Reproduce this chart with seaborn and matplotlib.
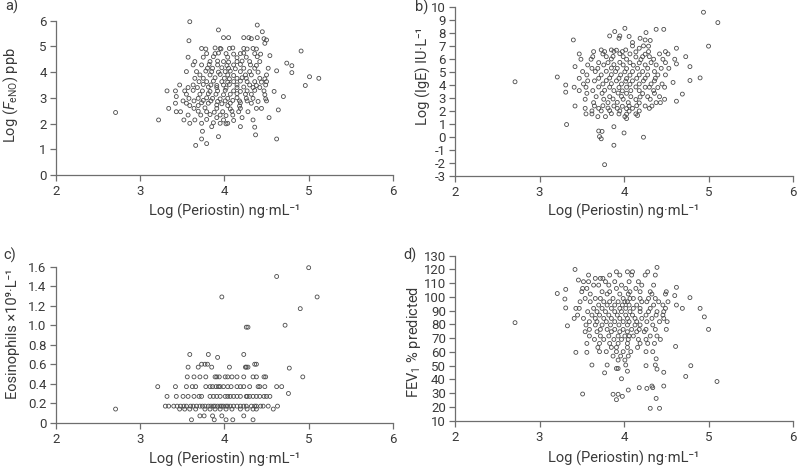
import matplotlib
matplotlib.use("Agg")
import matplotlib.pyplot as plt
import pandas as pd
import seaborn as sns
from matplotlib.ticker import FuncFormatter, MultipleLocator

# values (log periostin, outcome)
feno_points = [
    (2.71, 2.43),
    (3.59, 5.96), (4.39, 5.83), (3.93, 5.64), (4.45, 5.57),
    (3.99, 5.34), (4.05, 5.34), (4.23, 5.34), (4.29, 5.34), (4.32, 5.30), (4.39, 5.34), (4.47, 5.30), (4.50, 5.25),
    (3.58, 5.22), (4.48, 5.12),
    (3.73, 4.92), (3.78, 4.90), (3.89, 4.94), (3.95, 4.92), (3.96, 4.90), (4.06, 4.92), (4.10, 4.94), (4.23, 4.92),
    (4.27, 4.90), (4.34, 4.92), (4.38, 4.90), (4.91, 4.82),
    (3.79, 4.72), (3.89, 4.72), (3.93, 4.74), (4.02, 4.72), (4.11, 4.70), (4.19, 4.72), (4.23, 4.74), (4.36, 4.72), (4.43, 4.70),
    (3.57, 4.58), (3.75, 4.58), (3.87, 4.60), (4.04, 4.58), (4.15, 4.56), (4.26, 4.58), (4.39, 4.60), (4.54, 4.64),
    (3.65, 4.41), (3.83, 4.41), (3.92, 4.43), (3.99, 4.41), (4.05, 4.39), (4.15, 4.41), (4.21, 4.43), (4.30, 4.41),
    (4.42, 4.41), (4.74, 4.35),
    (3.63, 4.28), (3.73, 4.28), (3.82, 4.30), (3.92, 4.28), (4.03, 4.26), (4.11, 4.28), (4.19, 4.30), (4.31, 4.28),
    (4.38, 4.26), (4.80, 4.25),
    (3.80, 4.15), (3.86, 4.15), (3.97, 4.17), (4.05, 4.15), (4.13, 4.13), (4.23, 4.15), (4.36, 4.15), (4.52, 4.15),
    (3.55, 4.02), (3.67, 4.02), (3.78, 4.04), (3.85, 4.02), (3.93, 4.00), (4.01, 4.02), (4.07, 4.04), (4.19, 4.02),
    (4.30, 4.02), (4.40, 4.00), (4.62, 4.05), (4.80, 3.98),
    (3.71, 3.89), (3.83, 3.89), (3.95, 3.91), (4.04, 3.89), (4.11, 3.87), (4.25, 3.89), (4.32, 3.89), (4.50, 3.89),
    (5.01, 3.82),
    (3.65, 3.76), (3.75, 3.76), (3.89, 3.78), (4.00, 3.76), (4.06, 3.74), (4.15, 3.76), (4.21, 3.78), (4.26, 3.76),
    (4.42, 3.76), (4.48, 3.74), (5.12, 3.76),
    (3.70, 3.63), (3.79, 3.63), (3.87, 3.65), (3.97, 3.63), (4.04, 3.61), (4.11, 3.63), (4.19, 3.65), (4.27, 3.63),
    (4.36, 3.63), (4.44, 3.61), (4.50, 3.63),
    (3.47, 3.50), (3.63, 3.50), (3.75, 3.52), (3.84, 3.50), (3.91, 3.48), (3.99, 3.50), (4.06, 3.52), (4.15, 3.50),
    (4.30, 3.50), (4.38, 3.48), (4.49, 3.50), (4.96, 3.48),
    (3.57, 3.40), (3.68, 3.40), (3.81, 3.42), (3.91, 3.40), (4.02, 3.38), (4.15, 3.40), (4.23, 3.42), (4.34, 3.40), (4.42, 3.40),
    (3.32, 3.27), (3.42, 3.27), (3.53, 3.27), (3.63, 3.29), (3.74, 3.27), (3.83, 3.25), (3.92, 3.27), (4.01, 3.29),
    (4.11, 3.27), (4.19, 3.25), (4.27, 3.27), (4.36, 3.29), (4.47, 3.27), (4.59, 3.25),
    (3.55, 3.14), (3.71, 3.14), (3.81, 3.16), (3.90, 3.14), (3.99, 3.12), (4.07, 3.14), (4.15, 3.16), (4.25, 3.14),
    (4.32, 3.14), (4.48, 3.12), (3.43, 3.05), (4.70, 3.05),
    (3.58, 2.98), (3.69, 2.98), (3.79, 3.00), (3.86, 2.98), (3.95, 2.96), (4.04, 2.98), (4.15, 3.00), (4.26, 2.98),
    (4.34, 2.98), (4.49, 2.96),
    (3.51, 2.88), (3.64, 2.88), (3.75, 2.90), (3.84, 2.88), (3.92, 2.86), (4.01, 2.88), (4.10, 2.90), (4.18, 2.88),
    (4.27, 2.88), (4.40, 2.86), (4.50, 2.88),
    (3.42, 2.79), (3.55, 2.79), (3.73, 2.81), (3.81, 2.79), (3.97, 2.77), (4.07, 2.79), (4.19, 2.81), (4.32, 2.79),
    (3.59, 2.70), (3.69, 2.70), (3.91, 2.72), (4.04, 2.70), (4.18, 2.68),
    (3.34, 2.59), (3.64, 2.59), (3.77, 2.61), (3.91, 2.59), (4.07, 2.57), (4.19, 2.59), (4.38, 2.59), (4.44, 2.59),
    (4.64, 2.53),
    (3.43, 2.46), (3.48, 2.46), (3.69, 2.48), (3.79, 2.46), (3.88, 2.44), (3.98, 2.46), (4.09, 2.48), (4.17, 2.46), (4.28, 2.46),
    (3.57, 2.33), (3.72, 2.33), (3.83, 2.35), (3.95, 2.33), (4.02, 2.31), (4.10, 2.33),
    (3.91, 2.23), (4.21, 2.23), (4.53, 2.23),
    (3.22, 2.14), (3.52, 2.14), (3.65, 2.14), (3.79, 2.16), (3.99, 2.14), (4.11, 2.12), (4.34, 2.14),
    (3.59, 2.01), (3.73, 2.01), (3.87, 2.03), (3.95, 2.01), (4.02, 1.99), (4.04, 2.01),
    (3.85, 1.88), (4.19, 1.88), (4.36, 1.86),
    (3.74, 1.70), (4.37, 1.56), (3.93, 1.49), (3.73, 1.40), (4.62, 1.40), (3.79, 1.22), (3.66, 1.15),
]

ige_points = [
    (2.71, 4.25),
    (4.94, 9.62), (5.11, 8.82), (4.01, 8.38), (4.38, 8.30), (4.47, 8.30), (3.89, 8.13), (4.26, 8.05),
    (3.83, 7.79), (3.95, 7.79), (4.06, 7.75), (3.94, 7.61), (4.19, 7.61),
    (3.40, 7.48), (4.25, 7.48), (4.31, 7.44), (4.10, 7.28),
    (4.10, 7.02), (4.23, 7.02), (4.29, 7.00), (5.00, 7.00), (4.62, 6.84), (4.18, 6.84),
    (3.73, 6.71), (3.85, 6.71), (3.91, 6.69), (4.02, 6.71),
    (3.64, 6.58), (3.77, 6.58), (3.88, 6.60), (3.98, 6.58), (4.14, 6.56), (4.29, 6.58), (4.49, 6.58),
    (3.47, 6.40), (3.75, 6.40), (3.95, 6.42), (4.07, 6.40), (4.25, 6.38), (4.42, 6.40), (4.52, 6.40),
    (3.63, 6.19), (3.79, 6.19), (3.87, 6.21), (3.99, 6.19), (4.14, 6.17), (4.22, 6.19), (4.30, 6.19), (4.73, 6.19),
    (3.49, 5.99), (3.61, 5.99), (3.85, 6.01), (4.03, 5.99), (4.20, 5.97), (4.35, 5.99), (4.46, 5.99), (4.60, 5.99),
    (3.70, 5.73), (3.81, 5.73), (3.95, 5.75), (4.07, 5.73), (4.18, 5.71), (4.32, 5.73), (4.49, 5.73), (4.62, 5.63),
    (3.57, 5.55), (3.76, 5.55), (3.88, 5.57), (3.99, 5.55), (4.11, 5.53), (4.25, 5.55), (4.38, 5.55),
    (3.42, 5.42), (4.78, 5.42),
    (3.62, 5.29), (3.69, 5.29), (3.85, 5.31), (3.92, 5.29), (4.03, 5.27), (4.16, 5.29), (4.28, 5.29), (4.44, 5.29), (4.53, 5.29),
    (3.51, 5.04), (3.66, 5.04), (3.79, 5.06), (3.90, 5.04), (4.01, 5.02), (4.10, 5.04), (4.22, 5.04), (4.36, 5.04),
    (3.56, 4.78), (3.73, 4.78), (3.85, 4.80), (3.96, 4.78), (4.07, 4.76), (4.18, 4.78), (4.28, 4.78), (4.40, 4.78), (4.49, 4.78),
    (3.21, 4.62),
    (3.47, 4.52), (3.70, 4.52), (3.83, 4.54), (3.94, 4.52), (4.03, 4.50), (4.15, 4.52), (4.25, 4.52), (4.37, 4.52),
    (4.78, 4.35), (4.90, 4.55),
    (3.57, 4.32), (3.65, 4.32), (3.79, 4.34), (3.91, 4.32), (4.02, 4.30), (4.10, 4.32), (4.23, 4.32), (4.36, 4.32), (4.58, 4.20),
    (3.31, 4.00), (3.52, 4.08), (3.75, 4.08), (3.85, 4.10), (3.97, 4.08), (4.07, 4.06), (4.18, 4.08), (4.32, 4.08), (4.45, 4.08),
    (3.41, 3.83), (3.55, 3.83), (3.70, 3.85), (3.83, 3.83), (3.94, 3.81), (4.03, 3.83), (4.14, 3.85), (4.25, 3.83),
    (4.30, 3.83), (4.40, 3.81), (4.48, 3.83),
    (3.31, 3.45), (3.47, 3.57), (3.63, 3.57), (3.77, 3.59), (3.88, 3.57), (3.98, 3.55), (4.08, 3.57), (4.18, 3.57), (4.35, 3.57),
    (3.56, 3.36), (3.74, 3.36), (3.93, 3.38), (4.03, 3.36), (4.22, 3.34), (4.36, 3.36), (4.69, 3.30),
    (3.67, 3.10), (3.83, 3.10), (3.97, 3.12), (4.08, 3.10), (4.19, 3.08), (4.28, 3.10), (4.42, 3.10),
    (3.54, 2.90), (3.76, 2.90), (3.87, 2.92), (3.99, 2.90), (4.14, 2.88), (4.31, 2.90), (4.48, 2.90), (4.62, 2.75),
    (3.64, 2.64), (3.81, 2.64), (3.92, 2.66), (4.05, 2.64), (4.18, 2.62), (4.38, 2.64), (4.43, 2.64),
    (3.42, 2.38), (3.65, 2.38), (3.75, 2.40), (3.88, 2.38), (3.98, 2.36), (4.06, 2.38), (4.15, 2.40), (4.25, 2.38), (4.33, 2.38),
    (3.54, 2.20), (3.70, 2.20), (3.81, 2.22), (3.92, 2.20), (4.03, 2.18), (4.10, 2.20), (4.30, 2.20),
    (3.62, 2.00), (3.73, 2.00), (3.83, 2.02), (3.95, 2.00), (4.06, 1.98), (4.18, 2.00),
    (3.55, 1.77), (3.62, 1.77), (3.85, 1.79), (3.94, 1.77), (4.03, 1.75), (4.14, 1.77), (4.16, 1.65),
    (3.69, 1.56), (3.78, 1.56), (4.01, 1.56), (4.03, 1.41),
    (3.32, 0.95), (3.88, 0.78), (3.70, 0.45), (3.74, 0.42), (4.00, 0.30), (3.71, 0.02), (3.73, -0.15),
    (4.23, -0.03), (3.88, -0.65), (3.77, -2.15),
]

eos_points = [
    (2.71, 0.14),
    (5.00, 1.59), (4.62, 1.50), (5.10, 1.29), (3.97, 1.29), (4.90, 1.17), (4.72, 1.00), (4.26, 0.98), (4.28, 0.98),
    (3.59, 0.70), (3.81, 0.70), (4.23, 0.70), (3.92, 0.67),
    (3.73, 0.60), (3.77, 0.60), (3.80, 0.60), (4.36, 0.60), (4.38, 0.60),
    (3.57, 0.57), (3.69, 0.57), (3.85, 0.57), (4.06, 0.57), (4.25, 0.57), (4.26, 0.57), (4.28, 0.57), (4.77, 0.56),
    (3.56, 0.47), (3.64, 0.47), (3.71, 0.47), (3.78, 0.47), (3.89, 0.47), (3.91, 0.47), (3.94, 0.47), (4.01, 0.47),
    (4.04, 0.47), (4.09, 0.47), (4.15, 0.47), (4.23, 0.47), (4.34, 0.47), (4.38, 0.47), (4.47, 0.47), (4.49, 0.47),
    (4.93, 0.47),
    (3.21, 0.37), (3.42, 0.37), (3.55, 0.37), (3.62, 0.37), (3.66, 0.37), (3.78, 0.37), (3.83, 0.37), (3.86, 0.37),
    (3.90, 0.37), (3.93, 0.37), (3.95, 0.37), (3.99, 0.37), (4.04, 0.37), (4.08, 0.37), (4.15, 0.37), (4.19, 0.37),
    (4.23, 0.37), (4.30, 0.37), (4.40, 0.37), (4.42, 0.37), (4.48, 0.37), (4.62, 0.37), (4.68, 0.37),
    (3.32, 0.27), (3.43, 0.27), (3.51, 0.27), (3.57, 0.27), (3.64, 0.27), (3.70, 0.27), (3.73, 0.27), (3.83, 0.27),
    (3.87, 0.27), (3.91, 0.27), (3.95, 0.27), (4.01, 0.27), (4.04, 0.27), (4.07, 0.27), (4.11, 0.27), (4.15, 0.27),
    (4.19, 0.27), (4.26, 0.27), (4.27, 0.27), (4.30, 0.27), (4.34, 0.27), (4.38, 0.27), (4.42, 0.27), (4.47, 0.27),
    (4.50, 0.27), (4.54, 0.27), (4.76, 0.30),
    (3.30, 0.17), (3.34, 0.17), (3.40, 0.17), (3.44, 0.17), (3.48, 0.17), (3.52, 0.17), (3.55, 0.17), (3.60, 0.17),
    (3.63, 0.17), (3.67, 0.17), (3.71, 0.17), (3.74, 0.17), (3.77, 0.17), (3.81, 0.17), (3.84, 0.17), (3.87, 0.17),
    (3.89, 0.17), (3.92, 0.17), (3.95, 0.17), (3.97, 0.17), (3.99, 0.17), (4.02, 0.17), (4.04, 0.17), (4.07, 0.17),
    (4.11, 0.17), (4.15, 0.17), (4.19, 0.17), (4.23, 0.17), (4.26, 0.17), (4.32, 0.17), (4.36, 0.17), (4.38, 0.17),
    (4.43, 0.17), (4.46, 0.17), (4.52, 0.17), (4.63, 0.17),
    (3.47, 0.14), (3.53, 0.14), (3.59, 0.14), (3.66, 0.14), (3.77, 0.14), (3.83, 0.14), (3.89, 0.14), (3.95, 0.14),
    (4.02, 0.14), (4.09, 0.14), (4.19, 0.14), (4.27, 0.14), (4.34, 0.14), (4.38, 0.14), (4.58, 0.14),
    (3.71, 0.07), (3.76, 0.07), (3.86, 0.07), (3.97, 0.07), (4.23, 0.07),
    (3.61, 0.03), (3.88, 0.03), (4.02, 0.03), (4.10, 0.03), (4.34, 0.03),
]

fev1_points = [
    (2.71, 81.3),
    (4.39, 121.5), (3.42, 120.0), (3.91, 118.3), (4.04, 118.3), (4.10, 118.3), (4.28, 118.3),
    (3.58, 115.9), (3.83, 115.9), (3.95, 115.9), (4.09, 115.9), (4.25, 115.9), (4.37, 115.9),
    (3.66, 113.5), (3.72, 113.5), (3.75, 113.5), (3.46, 112.3),
    (3.52, 111.1), (3.58, 111.1), (3.78, 111.1), (3.89, 111.1), (4.06, 111.1), (4.17, 111.1),
    (3.64, 108.6), (3.70, 108.6), (3.82, 108.6), (3.97, 108.6), (4.21, 108.6), (4.35, 108.6), (4.62, 107.0),
    (3.51, 106.2), (3.56, 106.2), (3.91, 106.2), (4.02, 106.2), (4.14, 106.2),
    (3.31, 105.5), (3.21, 102.5), (3.50, 103.8), (3.74, 103.8), (3.83, 103.8), (4.07, 103.8), (4.19, 103.8),
    (4.31, 103.8), (4.50, 103.8),
    (3.60, 102.1), (3.80, 102.1), (3.95, 102.1), (4.05, 102.1), (4.33, 102.1), (4.49, 102.1), (4.60, 101.0),
    (3.30, 98.5), (3.54, 98.9), (3.66, 98.9), (3.72, 98.9), (3.87, 98.9), (3.99, 98.9), (4.07, 98.9), (4.11, 98.9),
    (4.19, 98.9), (4.29, 98.9), (4.37, 98.9), (4.78, 99.5),
    (3.48, 96.5), (3.60, 96.5), (3.76, 96.5), (3.83, 96.5), (3.93, 96.5), (4.01, 96.5), (4.04, 96.5), (4.21, 96.5),
    (4.27, 96.5), (4.41, 96.5), (4.52, 96.5),
    (3.70, 94.1), (3.80, 94.1), (3.89, 94.1), (3.98, 94.1), (4.06, 94.1), (4.15, 94.1), (4.35, 94.1), (4.46, 94.1), (4.62, 94.1),
    (3.31, 92.0), (3.43, 91.7), (3.47, 91.7), (3.64, 91.7), (3.74, 91.7), (3.85, 91.7), (3.95, 91.7), (4.02, 91.7),
    (4.11, 91.7), (4.19, 91.7), (4.31, 91.7), (4.49, 91.7), (4.69, 91.7), (4.90, 91.7),
    (3.57, 89.3), (3.68, 89.3), (3.78, 89.3), (3.89, 89.3), (3.97, 89.3), (4.07, 89.3), (4.19, 89.3), (4.29, 89.3),
    (4.39, 89.3), (4.47, 89.3),
    (3.45, 86.8), (3.62, 86.8), (3.71, 86.8), (3.82, 86.8), (3.92, 86.8), (4.02, 86.8), (4.10, 86.8), (4.26, 86.8),
    (4.38, 86.8), (4.46, 86.8), (4.95, 85.5),
    (3.41, 84.4), (3.52, 84.4), (3.66, 84.4), (3.76, 84.4), (3.85, 84.4), (3.95, 84.4), (4.04, 84.4), (4.13, 84.4),
    (4.21, 84.4), (4.33, 84.4), (4.47, 84.4),
    (3.59, 82.0), (3.68, 82.0), (3.79, 82.0), (3.89, 82.0), (3.99, 82.0), (4.06, 82.0), (4.15, 82.0), (4.27, 82.0),
    (4.42, 82.0), (4.51, 82.0),
    (3.33, 79.0), (3.55, 79.6), (3.66, 79.6), (3.74, 79.6), (3.84, 79.6), (3.94, 79.6), (4.04, 79.6), (4.13, 79.6),
    (4.19, 79.6), (4.34, 79.6),
    (3.59, 76.4), (3.72, 76.4), (3.80, 76.4), (3.89, 76.4), (3.99, 76.4), (4.09, 76.4), (4.18, 76.4), (4.26, 76.4),
    (4.37, 76.4), (4.50, 76.4), (5.00, 76.4),
    (3.54, 74.7), (3.68, 74.7), (3.85, 74.7), (3.95, 74.7), (4.04, 74.7), (4.15, 74.7), (4.24, 74.7),
    (3.59, 71.6), (3.72, 71.6), (3.82, 71.6), (3.93, 71.6), (4.01, 71.6), (4.06, 71.6), (4.11, 71.6), (4.31, 71.6), (4.39, 71.6),
    (3.65, 69.1), (3.76, 69.1), (3.88, 69.1), (3.97, 69.1), (4.05, 69.1), (4.17, 69.1), (4.26, 69.1), (4.43, 69.1),
    (3.56, 66.2), (3.71, 66.2), (3.83, 66.2), (3.93, 66.2), (4.04, 66.2), (4.19, 66.2), (4.28, 66.2), (4.36, 66.2), (4.61, 64.0),
    (3.69, 63.3), (3.85, 63.3), (3.91, 63.3), (4.04, 63.3), (4.16, 63.3),
    (3.43, 59.7), (3.56, 59.7), (3.71, 60.2), (3.79, 60.2), (3.91, 60.2), (3.99, 60.2), (4.08, 60.2), (4.26, 60.2), (4.34, 60.2),
    (3.87, 57.0), (3.96, 57.0), (4.05, 57.0), (4.38, 55.0), (3.93, 54.1), (4.01, 54.1),
    (3.62, 50.5), (3.80, 50.5), (4.02, 50.5), (4.26, 50.0), (4.37, 50.5), (4.79, 50.0),
    (3.91, 48.0), (3.93, 48.0), (4.04, 46.0), (4.39, 47.5), (3.77, 44.8), (4.47, 45.2),
    (3.97, 40.5), (4.73, 42.2), (5.10, 38.5),
    (4.47, 35.2), (4.33, 35.2), (4.34, 34.0), (4.18, 34.0), (4.27, 33.5), (4.05, 32.3),
    (3.51, 29.4), (3.87, 29.2), (3.93, 29.2), (3.98, 27.7), (3.91, 25.3), (4.38, 26.2), (4.31, 19.0), (4.42, 19.0),
]

x_label = "Log (Periostin) ng·mL⁻¹"
panel_letters = ["a)", "b)", "c)", "d)"]
y_labels = [
    r"Log ($F_{\mathrm{eNO}}$) ppb",
    "Log (IgE) IU·L⁻¹",
    "Eosinophils ×10⁹·L⁻¹",
    r"FEV$_{1}$ % predicted",
]
y_limits = [(0, 6), (-3, 10), (0, 1.6), (10, 130)]
y_steps = [1, 1, 0.2, 10]

sns.set_theme(style="ticks")
plt.rcParams["font.family"] = ["Roboto", "DejaVu Sans"]
plt.rcParams["mathtext.fontset"] = "custom"
plt.rcParams["mathtext.rm"] = "Roboto"
plt.rcParams["mathtext.it"] = "Roboto:italic"
plt.rcParams["axes.unicode_minus"] = False

text_col = "#3a3a3a"
axis_col = "#6e6e6e"
mark_col = "#4a4a4a"

fig = plt.figure(figsize=(7.98, 4.69), dpi=100)
axes_rects = [
    [0.0698, 0.6269, 0.4227, 0.3290],
    [0.5702, 0.6254, 0.4236, 0.3590],
    [0.0698, 0.0987, 0.4227, 0.3326],
    [0.5702, 0.1030, 0.4236, 0.3518],
]
ylabel_pos = [(-0.106, 0.52), (-0.071, 0.59), (-0.106, 0.57), (-0.096, 0.48)]
xlabel_y = [-0.188, -0.168, -0.188, -0.184]
letter_pos = [(11.7, 6.7), (421.7, 7.3), (10.0, 255.7), (410.0, 255.7)]

datasets = [feno_points, ige_points, eos_points, fev1_points]

for i, pts in enumerate(datasets):
    ax = fig.add_axes(axes_rects[i])
    df = pd.DataFrame(pts, columns=["periostin", "value"])
    sns.scatterplot(
        data=df, x="periostin", y="value", ax=ax,
        marker="o", s=8, facecolors="none", edgecolors=mark_col,
        linewidth=0.6, clip_on=False, legend=False,
    )
    ax.set_xlim(2, 6)
    ax.set_ylim(*y_limits[i])
    ax.xaxis.set_major_locator(MultipleLocator(1))
    ax.yaxis.set_major_locator(MultipleLocator(y_steps[i]))
    if i == 2:
        ax.yaxis.set_major_formatter(FuncFormatter(lambda v, _: "0" if abs(v) < 1e-9 else f"{v:.1f}"))
    else:
        ax.yaxis.set_major_formatter(FuncFormatter(lambda v, _: f"{v:.0f}"))

    sns.despine(ax=ax)
    for side in ["left", "bottom"]:
        ax.spines[side].set_color(axis_col)
        ax.spines[side].set_linewidth(0.9)
    ax.tick_params(axis="both", direction="out", length=4.5, width=0.9,
                   color=axis_col, labelcolor=text_col, labelsize=9.5)
    ax.tick_params(axis="x", pad=3)
    ax.tick_params(axis="y", pad=2)

    ax.set_xlabel(x_label, fontsize=10.5, color=text_col)
    ax.set_ylabel(y_labels[i], fontsize=10.5, color=text_col)
    ax.xaxis.set_label_coords(0.5, xlabel_y[i])
    ax.yaxis.set_label_coords(*ylabel_pos[i])

    lx, ly = letter_pos[i]
    fig.text(lx / 798, 1 - ly / 469, panel_letters[i], fontsize=10.5,
             color=text_col, ha="center", va="center")

fig.savefig("out.png", dpi=100)
